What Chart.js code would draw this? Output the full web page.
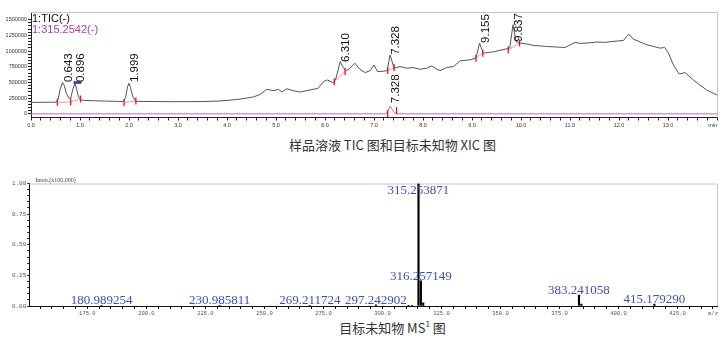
<!DOCTYPE html>
<html><head><meta charset="utf-8">
<script src="https://cdn.jsdelivr.net/npm/chart.js@4.4.0/dist/chart.umd.min.js"></script>
<style>
html,body{margin:0;padding:0;background:#fff;width:723px;height:348px;overflow:hidden}
canvas{position:absolute;left:0}
#c1{top:0}
#c2{top:175px}
.cap{position:absolute;left:0;width:785px;text-align:center;font-family:"Noto Sans CJK SC";font-size:13px;color:#333;line-height:16px}
.cap sup{font-size:8px;vertical-align:6px;line-height:0}
</style></head><body>
<canvas id="c1" width="723" height="131"></canvas>
<canvas id="c2" width="723" height="143"></canvas>
<div class="cap" style="top:137px">样品溶液 TIC 图和目标未知物 XIC 图</div>
<div class="cap" style="top:320px">目标未知物 MS<sup>1</sup> 图</div>
<script>
// ---------- Chromatogram data ----------
const ticTime = [0.00,0.20,0.40,0.50,0.55,0.59,0.643,0.68,0.72,0.77,0.81,0.85,0.896,0.93,0.97,1.02,1.10,1.30,1.50,1.70,1.88,1.93,1.97,1.999,2.03,2.08,2.14,2.30,2.60,2.90,3.20,3.50,3.80,4.00,4.27,4.54,4.68,4.81,4.95,5.05,5.12,5.22,5.35,5.49,5.69,5.86,5.97,6.05,6.16,6.21,6.31,6.36,6.43,6.51,6.61,6.71,6.82,6.92,7.00,7.07,7.20,7.27,7.328,7.41,7.53,7.67,7.80,7.94,8.07,8.18,8.28,8.35,8.48,8.62,8.76,8.96,9.08,9.155,9.20,9.23,9.43,9.71,9.77,9.837,9.90,9.98,10.15,10.25,10.40,10.52,10.70,10.90,11.10,11.20,11.34,11.45,11.54,11.70,11.88,12.09,12.20,12.29,12.45,12.57,12.70,12.84,12.93,13.01,13.11,13.23,13.35,13.52,13.65,13.79,14.00];
const ticIntensity = [182000,184000,185000,186000,215000,380000,502000,450000,330000,255000,246000,380000,486000,400000,270000,222000,214000,208000,204000,200000,196000,260000,430000,486000,420000,270000,200000,197000,196000,194000,195000,196000,203000,214000,235000,270000,310000,391000,369000,391000,348000,401000,369000,348000,380000,407000,513000,540000,497000,524000,833000,753000,684000,727000,807000,711000,657000,689000,780000,673000,680000,689000,940000,727000,753000,727000,737000,711000,727000,764000,711000,689000,737000,753000,845000,861000,888000,1128000,1030000,967000,988000,1036000,1047000,1420000,1154000,1128000,1110000,1090000,1082000,1074000,1066000,1058000,1138000,1124000,1128000,1136000,1144000,1140000,1154000,1170000,1271000,1191000,1140000,1100000,1075000,1047000,1058000,967000,780000,636000,657000,540000,460000,380000,300000];
const xicTime = [0.00,7.24,7.29,7.33,7.38,7.43,7.50,14.00];
const xicIntensity = [0,0,60000,123000,60000,10000,0,0];
// peak retention-time labels
const ticPeakRT = [0.643,0.896,1.999,6.310,7.328,9.155,9.837];
const ticPeakLabelLevel = [507000,507000,507000,827000,940000,1131000,1147000];
const xicPeakRT = [7.328];
const xicPeakLabelLevel = [171000];
// integration boundaries
const ticBoundTime = [0.537,0.81,1.01,1.90,2.14,6.19,6.41,7.28,7.41,9.08,9.22,9.74,9.97];
const ticBoundLevel = [184000,190000,238000,180000,205000,513000,673000,689000,737000,888000,967000,1020000,1128000];
const ticBaseGroups = [[0,1,2],[3,4],[5,6],[7,8],[9,10],[11,12]];
const xicBoundTime = [7.28,7.46];
const xicBoundLevel = [0,55000];
const markTime = [0.87,1.03];
const markLevel = [500000,500000];
// axis labels
const topXLabels = ['0.0','1.0','2.0','3.0','4.0','5.0','6.0','7.0','8.0','9.0','10.0','11.0','12.0','13.0',''];
const topXUnit = 'min';
const topYLabels = ['0','250000','500000','750000','1000000','1250000','1500000'];

// ---------- Mass spectrum data ----------
const msMz = [180.989254,230.985811,269.211724,297.242902,311.0,312.5,315.253871,316.257149,317.26,383.241058,384.24,415.179290];
const msIntensity = [0.006,0.006,0.006,0.01,0.006,0.006,1.0,0.205,0.026,0.09,0.016,0.016];
const msLabelMz = [180.989254,230.985811,269.211724,297.242902,315.253871,316.257149,383.241058,415.179290];
const msXTickValues = [175,200,225,250,275,300,325,350,375,400,425,440];
const msXTickLabels = ['175.0','200.0','225.0','250.0','275.0','300.0','325.0','350.0','375.0','400.0','425.0','m/z'];
const msYLabels = ['0.00','0.25','0.50','0.75','1.00'];

const pts = (xs, ys) => xs.map((x, i) => ({x: x, y: ys[i]}));
const tickList = (from, to, step) => { const out = []; const n = Math.round((to - from) / step); for (let k = 0; k <= n; k++) out.push({value: from + k * step}); return out; };

// baseline segments with gaps
const baseData = [];
ticBaseGroups.forEach(g => {
  g.forEach(i => baseData.push({x: ticBoundTime[i], y: ticBoundLevel[i]}));
  baseData.push({x: ticBoundTime[g[g.length-1]] + 0.01, y: null});
});

const framePlugin = {
  id: 'frame',
  beforeDatasetsDraw(chart) {
    const a = chart.chartArea, ctx = chart.ctx;
    ctx.save();
    ctx.strokeStyle = '#c4c4c4';
    ctx.lineWidth = 1;
    ctx.beginPath();
    ctx.moveTo(a.left, a.top + 0.5); ctx.lineTo(a.right + 0.5, a.top + 0.5);
    ctx.lineTo(a.right + 0.5, a.bottom);
    ctx.stroke();
    ctx.restore();
  }
};

const chromLabels = {
  id: 'chromLabels',
  afterDatasetsDraw(chart) {
    const ctx = chart.ctx, xs = chart.scales.x, ys = chart.scales.y, a = chart.chartArea;
    ctx.save();
    ctx.font = '11.5px "Liberation Sans", Arial, sans-serif';
    ctx.fillStyle = '#111';
    const draw = (rt, lv) => {
      const x = xs.getPixelForValue(rt) + 6, y = ys.getPixelForValue(lv);
      ctx.save(); ctx.translate(x, y); ctx.rotate(-Math.PI / 2);
      ctx.textAlign = 'left'; ctx.textBaseline = 'middle';
      ctx.fillText(rt.toFixed(3), 0, 0); ctx.restore();
    };
    ticPeakRT.forEach((rt, i) => draw(rt, ticPeakLabelLevel[i]));
    xicPeakRT.forEach((rt, i) => draw(rt, xicPeakLabelLevel[i]));
    ctx.font = '11px "Liberation Sans", Arial, sans-serif';
    ctx.textAlign = 'left'; ctx.textBaseline = 'alphabetic';
    ctx.fillStyle = '#111';
    ctx.fillText('1:TIC(-)', a.left + 1, a.top + 10);
    ctx.fillStyle = '#a347a3';
    ctx.fillText('1:315.2542(-)', a.left + 1, a.top + 20.5);
    // axis unit at right end of the time axis
    ctx.font = '5.5px "Liberation Sans", Arial, sans-serif';
    ctx.fillStyle = '#333';
    ctx.textAlign = 'right'; ctx.textBaseline = 'middle';
    ctx.fillText(topXUnit, a.right, a.bottom + 7.5);
    ctx.restore();
  }
};

new Chart(document.getElementById('c1'), {
  type: 'line',
  data: {
    datasets: [
      {data: pts(xicTime, xicIntensity), borderColor: '#b070b8', borderWidth: 1, pointRadius: 0, order: 5},
      {data: pts(ticTime, ticIntensity), borderColor: '#555', borderWidth: 1, pointRadius: 0, order: 4},
      {data: baseData, borderColor: '#f49a9a', borderWidth: 1, pointRadius: 0, spanGaps: false, order: 3},
      {data: pts(markTime, markLevel), borderColor: '#2a3d9a', borderWidth: 2.5, pointRadius: 0, order: 2},
      {data: pts(ticBoundTime, ticBoundLevel).concat(pts(xicBoundTime, xicBoundLevel)), showLine: false,
       pointStyle: 'line', rotation: 90, pointRadius: 3.5, pointBorderColor: '#e8141a', pointBorderWidth: 1.3, order: 1}
    ]
  },
  options: {
    responsive: false, animation: false,
    layout: {padding: {left: 0, right: 6, top: 12, bottom: 0}},
    plugins: {legend: {display: false}, tooltip: {enabled: false}},
    scales: {
      x: {
        type: 'linear', min: 0, max: 14,
        afterFit: s => { s.height = 13.5; },
        afterBuildTicks: s => { s.ticks = tickList(0, 14, 0.2); },
        grid: {drawOnChartArea: false, tickLength: 3, tickColor: '#222'},
        border: {color: '#222'},
        ticks: {
          autoSkip: false, maxRotation: 0, padding: 1.5,
          color: '#333', font: {size: 5.5, family: '"Liberation Sans", Arial'},
          callback: v => { const k = Math.round(v / 0.2); return k % 5 === 0 ? topXLabels[k / 5] : ''; }
        }
      },
      y: {
        type: 'linear', min: -58000, max: 1623000,
        afterFit: s => { s.width = 31; },
        afterBuildTicks: s => { s.ticks = tickList(0, 1500000, 50000); },
        grid: {drawOnChartArea: false, tickLength: 3, tickColor: '#222'},
        border: {color: '#222'},
        ticks: {
          autoSkip: false, padding: 1,
          color: '#333', font: {size: 5.5, family: '"Liberation Sans", Arial'},
          callback: v => { const k = Math.round(v / 50000); return k % 5 === 0 ? topYLabels[k / 5] : ''; }
        }
      }
    }
  },
  plugins: [framePlugin, chromLabels]
});

const msLabels = {
  id: 'msLabels',
  afterDatasetsDraw(chart) {
    const ctx = chart.ctx, xs = chart.scales.x, ys = chart.scales.y, a = chart.chartArea;
    ctx.save();
    ctx.font = '13px "Liberation Serif", "Times New Roman", serif';
    ctx.fillStyle = '#3f4fb0';
    ctx.textAlign = 'center'; ctx.textBaseline = 'alphabetic';
    msLabelMz.forEach(mz => {
      const v = msIntensity[msMz.indexOf(mz)];
      const x = xs.getPixelForValue(mz);
      let y = ys.getPixelForValue(v) - 1;
      if (y < a.top + 10) y = a.top + 10;
      ctx.fillText(mz.toFixed(6), x, y);
    });
    ctx.font = '6px "Liberation Serif", serif';
    ctx.fillStyle = '#444';
    ctx.textAlign = 'left';
    ctx.fillText('Inten.(x100,000)', a.left + 6, a.top - 2);
    ctx.restore();
  }
};

new Chart(document.getElementById('c2'), {
  type: 'bar',
  data: {
    datasets: [{data: pts(msMz, msIntensity), backgroundColor: '#000', barThickness: 1.5}]
  },
  options: {
    responsive: false, animation: false,
    layout: {padding: {left: 0, right: 6, top: 8.5, bottom: 0}},
    plugins: {legend: {display: false}, tooltip: {enabled: false}},
    scales: {
      x: {
        type: 'linear', min: 150.4, max: 441.7, offset: false,
        afterFit: s => { s.height = 12; },
        afterBuildTicks: s => { s.ticks = tickList(155, 440, 5); },
        grid: {offset: false, drawOnChartArea: false, tickLength: 3, tickColor: '#111'},
        border: {color: '#111'},
        ticks: {
          autoSkip: false, maxRotation: 0, padding: 1.5,
          color: '#555', font: {size: 5.5, family: '"Liberation Mono", monospace'},
          callback: v => { const k = msXTickValues.indexOf(Math.round(v)); return k >= 0 ? msXTickLabels[k] : ''; }
        }
      },
      y: {
        type: 'linear', min: 0, max: 1,
        afterFit: s => { s.width = 29.3; },
        afterBuildTicks: s => { s.ticks = tickList(0, 1, 0.05); },
        grid: {drawOnChartArea: false, tickLength: 2, tickColor: '#111'},
        border: {color: '#111'},
        ticks: {
          autoSkip: false, padding: 1,
          color: '#555', font: {size: 6, family: '"Liberation Mono", monospace'},
          callback: v => { const k = Math.round(v / 0.05); return k % 5 === 0 ? msYLabels[k / 5] : ''; }
        }
      }
    }
  },
  plugins: [framePlugin, msLabels]
});
</script>
</body></html>
